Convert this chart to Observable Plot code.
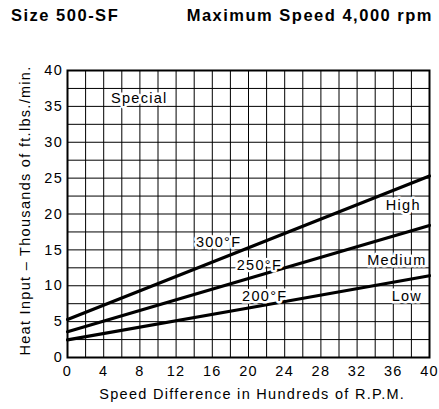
<!DOCTYPE html>
<html>
<head>
<meta charset="utf-8">
<script src="https://cdn.jsdelivr.net/npm/d3@7"></script>
<script src="https://cdn.jsdelivr.net/npm/@observablehq/plot@0.6"></script>
<style>
  body { margin: 0; background: #fff; font-family: "Liberation Sans", Arial, sans-serif; }
  #wrap { position: relative; width: 439px; height: 409px; }
  #head { position: relative; height: 28px; }
  #head span { position: absolute; top: 7px; font-weight: bold; font-size: 16.5px; line-height: 16.5px; letter-spacing: 1.5px; color: #000; white-space: nowrap; }
  #t1 { left: 11px; }
  #t2 { right: 6px; }
</style>
</head>
<body>
<div id="wrap">
  <div id="head"><span id="t1">Size 500-SF</span><span id="t2">Maximum Speed 4,000 rpm</span></div>
  <div id="chart"></div>
</div>
<script>
const speed = [0, 20, 40];
const heat300 = [5.3, 15.3, 25.3];
const heat250 = [3.6, 11.0, 18.4];
const heat200 = [2.45, 6.9, 11.4];
const xTicks = [0, 4, 8, 12, 16, 20, 24, 28, 32, 36, 40];
const yTicks = [0, 5, 10, 15, 20, 25, 30, 35, 40];
const labelText = ["Special", "300°F", "250°F", "200°F", "High", "Medium", "Low"];
const labelX = [4.8, 16.7, 21.2, 21.8, 37.1, 36.4, 37.5];
const labelY = [36.1, 16.1, 12.9, 8.55, 21.2, 13.6, 8.55];
const labelAnchor = ["start", "middle", "middle", "middle", "middle", "middle", "middle"];

const lines = [
  ...speed.map((s, i) => ({series: "300°F", x: s, y: heat300[i]})),
  ...speed.map((s, i) => ({series: "250°F", x: s, y: heat250[i]})),
  ...speed.map((s, i) => ({series: "200°F", x: s, y: heat200[i]}))
];
const labels = labelText.map((t, i) => ({t, x: labelX[i], y: labelY[i], a: labelAnchor[i]}));

const chart = Plot.plot({
  width: 439,
  height: 381,
  marginTop: 42,
  marginBottom: 52,
  marginLeft: 67,
  marginRight: 10,
  style: {fontFamily: "'Liberation Sans', Arial, sans-serif", fontSize: "14.5px", color: "#000", background: "#fff", letterSpacing: "1.3px"},
  x: {domain: [0, 40]},
  y: {domain: [0, 40]},
  marks: [
    Plot.gridX(d3.range(0, 41, 2), {stroke: "#000", strokeOpacity: 1, strokeWidth: 1}),
    Plot.gridY(d3.range(0, 40.01, 2.5), {stroke: "#000", strokeOpacity: 1, strokeWidth: 1}),
    Plot.line(lines, {x: "x", y: "y", z: "series", stroke: "#000", strokeWidth: 3.2}),
    Plot.text(labels.filter(d => d.a === "start"), {x: "x", y: "y", text: "t", textAnchor: "start", fill: "#000", stroke: "#fff", strokeWidth: 5, fontSize: 14.5}),
    Plot.text(labels.filter(d => d.a === "middle"), {x: "x", y: "y", text: "t", textAnchor: "middle", fill: "#000", stroke: "#fff", strokeWidth: 5, fontSize: 14.5}),
    Plot.frame({stroke: "#000", strokeWidth: 2}),
    Plot.axisX(xTicks, {tickSize: 0, tickPadding: 8.5, label: null, fontSize: 14.5}),
    Plot.axisY(yTicks, {tickSize: 0, tickPadding: 4.5, label: null, fontSize: 14.5}),
    Plot.text(["Speed Difference in Hundreds of R.P.M."], {frameAnchor: "bottom", textAnchor: "middle", dx: 3.7, dy: 37, lineAnchor: "middle", fontSize: 14.5, fill: "#000"}),
    Plot.text(["Heat Input – Thousands of ft.lbs./min."], {frameAnchor: "left", textAnchor: "middle", rotate: -90, dx: -42, dy: -3.5, lineAnchor: "middle", fontSize: 14.5, fill: "#000"})
  ]
});
document.getElementById("chart").appendChild(chart);
</script>
</body>
</html>
